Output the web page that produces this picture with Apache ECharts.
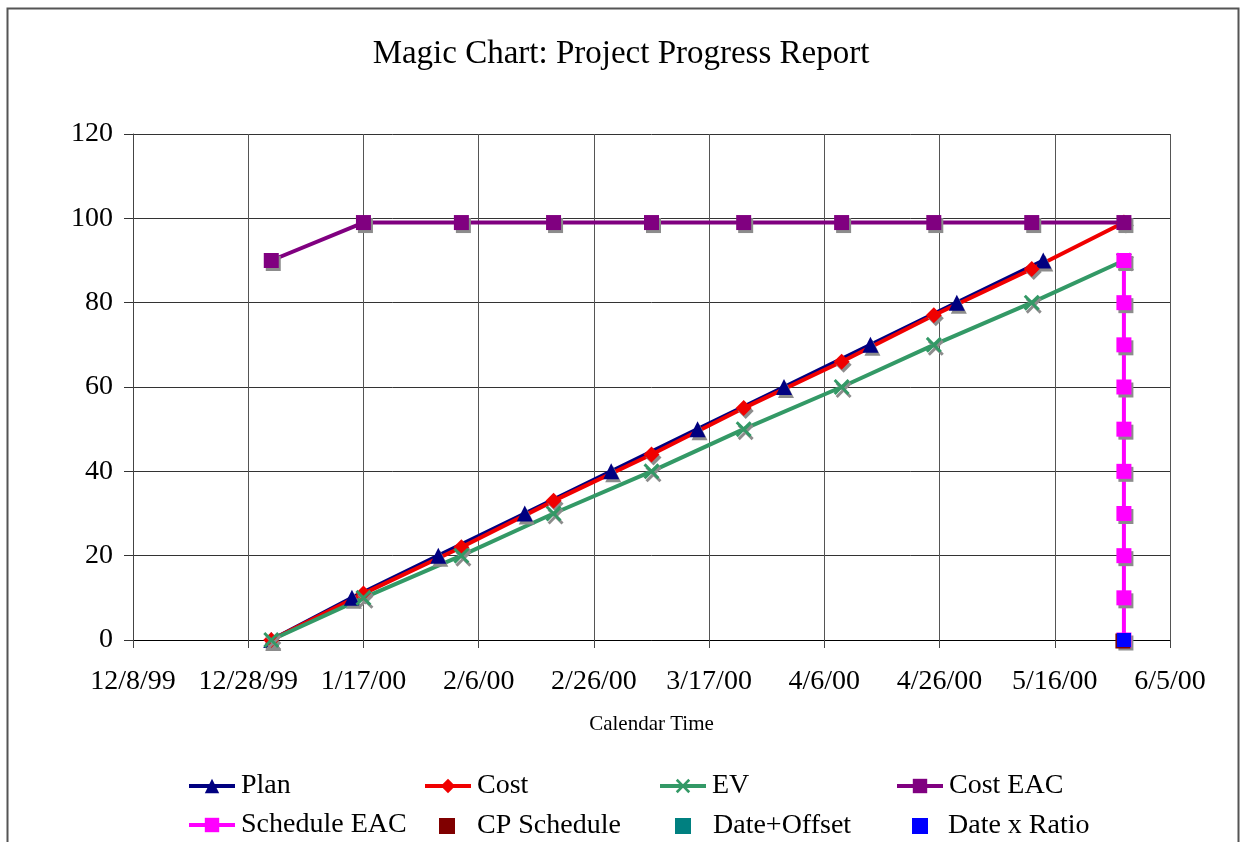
<!DOCTYPE html>
<html>
<head>
<meta charset="utf-8">
<script src="https://cdn.jsdelivr.net/npm/echarts@6/dist/echarts.min.js"></script>
<style>
html,body{margin:0;padding:0;background:#fff;}
#chart{width:1242px;height:842px;}
</style>
</head>
<body>
<div id="chart"></div>
<script>
// ---- data ----
var xAxisStart = '12/8/99';
var xAxisEnd = '6/5/00';
var xTickDays = 20;
var yTicks = [0, 20, 40, 60, 80, 100, 120];

var planDates = ['1/1/00','1/15/00','1/30/00','2/14/00','2/29/00','3/15/00','3/30/00','4/14/00','4/29/00','5/14/00'];
var planValues = [0,10,20,30,40,50,60,70,80,90];

var costDates = ['1/1/00','1/17/00','2/3/00','2/19/00','3/7/00','3/23/00','4/9/00','4/25/00','5/12/00','5/28/00'];
var costValues = [0,11,22,33,44,55,66,77,88,99];

var evDates = ['1/1/00','1/17/00','2/3/00','2/19/00','3/7/00','3/23/00','4/9/00','4/25/00','5/12/00','5/28/00'];
var evValues = [0,10,20,30,40,50,60,70,80,90];

var costEacDates = ['1/1/00','1/17/00','2/3/00','2/19/00','3/7/00','3/23/00','4/9/00','4/25/00','5/12/00','5/28/00'];
var costEacValues = [90,99,99,99,99,99,99,99,99,99];

var schedEacDates = ['5/28/00','5/28/00','5/28/00','5/28/00','5/28/00','5/28/00','5/28/00','5/28/00','5/28/00','5/28/00'];
var schedEacValues = [0,10,20,30,40,50,60,70,80,90];

var cpScheduleDates = ['5/28/00'];
var cpScheduleValues = [0];

var dateOffsetDates = ['5/28/00'];
var dateOffsetValues = [0];

var dateRatioDates = ['5/28/00'];
var dateRatioValues = [0];

// ---- helpers ----
function parseDate(s){
  var p = s.split('/');
  var yy = +p[2];
  var y = yy < 50 ? 2000 + yy : 1900 + yy;
  return Date.UTC(y, +p[0]-1, +p[1]);
}
var base = parseDate(xAxisStart);
function dayOf(s){ return (parseDate(s) - base) / 86400000; }
function fmt(v){
  var d = new Date(base + v*86400000);
  return (d.getUTCMonth()+1) + '/' + d.getUTCDate() + '/' + String(d.getUTCFullYear()).slice(2);
}
function pairs(dates, vals){ return dates.map(function(d,i){ return [dayOf(d), vals[i]]; }); }

var FONT = '"Liberation Serif","Times New Roman",serif';
var shadow = {shadowColor:'#8c8c8c', shadowOffsetX:2, shadowOffsetY:3, shadowBlur:0};
var xShape = 'path://M0,1.3 L1.3,0 L5,3.7 L8.7,0 L10,1.3 L6.3,5 L10,8.7 L8.7,10 L5,6.3 L1.3,10 L0,8.7 L3.7,5 Z';

function lineSeries(name, data, color, symbol, size){
  return {
    name: name, type: 'line', data: data, symbol: symbol, symbolSize: size,
    lineStyle: {color: color, width: 4},
    itemStyle: Object.assign({color: color, opacity: 1}, shadow),
    emphasis: {disabled: true}
  };
}
function pointSeries(name, data, color, size, z, offset){
  return {
    name: name, type: 'scatter', data: data, symbol: 'rect', symbolSize: size, z: z,
    symbolOffset: offset || [0, 0],
    itemStyle: {color: color, opacity: 1}, emphasis: {disabled: true}
  };
}

var legendText = {fontFamily: FONT, fontSize: 28, color: '#000'};
var legendNoShadow = {shadowColor:'rgba(0,0,0,0)', shadowOffsetX:0, shadowOffsetY:0, shadowBlur:0, opacity: 1};
function lineLegend(name, left, top){
  return {data:[name], left:left, top:top, itemWidth:46, itemHeight:18, itemGap:0, padding:0,
          textStyle: Object.assign({padding:[0,0,0,1]}, legendText), itemStyle: legendNoShadow,
          lineStyle: {width: 4}, selectedMode:false};
}
function boxLegend(name, left, top, textPad){
  return {data:[name], left:left, top:top, itemWidth:16, itemHeight:16, itemGap:0, padding:0,
          textStyle: Object.assign({padding:[0,0,0,textPad]}, legendText), itemStyle: legendNoShadow, selectedMode:false};
}

var chart = echarts.init(document.getElementById('chart'), null, {renderer:'canvas'});
var xMax = dayOf(xAxisEnd);
chart.setOption({
  animation: false,
  backgroundColor: '#fff',
  title: {
    text: 'Magic Chart: Project Progress Report',
    left: 'center', top: 33,
    textStyle: {fontFamily: FONT, fontSize: 33, fontWeight: 'normal', color: '#000'}
  },
  graphic: [{
    type: 'rect', z: 100, silent: true,
    shape: {x: 7.5, y: 8.5, width: 1231, height: 860},
    style: {fill: 'none', stroke: '#555', lineWidth: 2}
  }],
  grid: {left: 133, right: 72, top: 134, bottom: 202, containLabel: false},
  xAxis: {
    type: 'value', min: 0, max: xMax, interval: xTickDays,
    name: 'Calendar Time', nameLocation: 'middle', nameGap: 74,
    nameTextStyle: {fontFamily: FONT, fontSize: 21, color: '#000'},
    axisLine: {show: true, onZero: false, lineStyle: {color: '#000', width: 1}},
    axisTick: {show: true, length: 8, inside: false, lineStyle: {color: '#444'}},
    axisLabel: {formatter: fmt, fontFamily: FONT, fontSize: 28, color: '#000', margin: 28,
                showMinLabel: true, showMaxLabel: true},
    splitLine: {show: true, lineStyle: {color: '#555', width: 1}}
  },
  yAxis: {
    type: 'value', min: yTicks[0], max: yTicks[yTicks.length-1], interval: yTicks[1]-yTicks[0],
    axisLine: {show: true, lineStyle: {color: '#444', width: 1}},
    axisTick: {show: true, length: 9, inside: false, lineStyle: {color: '#333'}},
    axisLabel: {fontFamily: FONT, fontSize: 28, color: '#000', margin: 20},
    splitLine: {show: true, lineStyle: {color: '#333', width: 1}}
  },
  legend: [
    lineLegend('Plan', 187, 772),
    lineLegend('Cost', 423, 772),
    lineLegend('EV', 658, 772),
    lineLegend('Cost EAC', 895, 772),
    lineLegend('Schedule EAC', 187, 811),
    boxLegend('CP Schedule', 439, 812, 17),
    boxLegend('Date+Offset', 675, 812, 17),
    boxLegend('Date x Ratio', 912, 812, 15)
  ],
  series: [
    lineSeries('Plan', pairs(planDates, planValues), '#000080', 'triangle', 16),
    lineSeries('Cost', pairs(costDates, costValues), '#f00000', 'diamond', 16),
    lineSeries('EV', pairs(evDates, evValues), '#339966', xShape, 16),
    lineSeries('Cost EAC', pairs(costEacDates, costEacValues), '#800080', 'rect', 15),
    lineSeries('Schedule EAC', pairs(schedEacDates, schedEacValues), '#ff00ff', 'rect', 15),
    pointSeries('CP Schedule', pairs(cpScheduleDates, cpScheduleValues), '#800000', 15, 5, [-1, 1]),
    pointSeries('Date+Offset', pairs(dateOffsetDates, dateOffsetValues), '#008080', 14, 6),
    pointSeries('Date x Ratio', pairs(dateRatioDates, dateRatioValues), '#0000ff', 14, 7)
  ]
});
</script>
</body>
</html>
